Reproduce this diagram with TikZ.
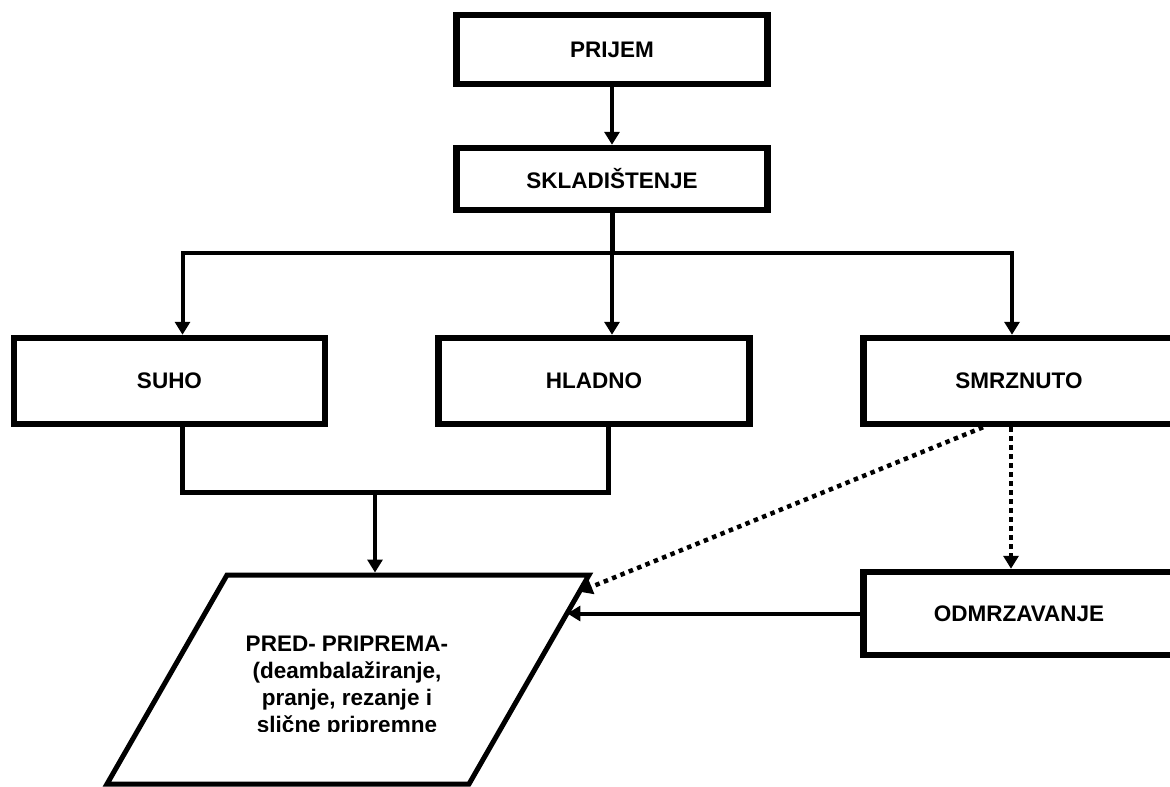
\documentclass[tikz,border=0pt]{standalone}
\usepackage{fontspec}
\setmainfont{Liberation Sans}
\usetikzlibrary{positioning,arrows.meta,calc}

\begin{document}
\begin{tikzpicture}[
  x=1pt, y=-1pt,
  font=\fontsize{22.5}{27}\selectfont\bfseries,
  >={Triangle[length=13pt,width=15pt]},
  box/.style={draw=black, line width=6.5pt, inner sep=0pt, align=center,
              minimum width=311pt, minimum height=86pt},
  topbox/.style={box, minimum height=66pt},
  prepline/.style={draw=black, line width=5pt, line join=miter},
  conn/.style={line width=5pt},
  arrow/.style={->, line width=4pt},
  dotarrow/.style={->, line width=4.5pt, dash pattern=on 4.5pt off 4.5pt}
]
\useasboundingbox (0,0) rectangle (1170,787);

% ------------------------------------------------------------
% Top: prijem and skladistenje
% ------------------------------------------------------------
\node[topbox, minimum height=69pt] (prijem) at (612,49.5) {PRIJEM};
\node[topbox, minimum height=62pt] (sklad)  at (612,179)  {SKLADIŠTENJE};

% ------------------------------------------------------------
% Storage types
% ------------------------------------------------------------
\node[box] (suho)   at (169.5,381) {SUHO};
\node[box] (hladno) at (594,381)   {HLADNO};
\node[box] (smrz)   at (1019,381)  {SMRZNUTO};
\node[box, minimum height=83pt] (odmr) at (1019,613.5) {ODMRZAVANJE};

% ------------------------------------------------------------
% Pre-preparation (parallelogram)
% ------------------------------------------------------------
\coordinate (ptl) at (227,575);
\coordinate (ptr) at (589,575);
\coordinate (pbr) at (469,784);
\coordinate (pbl) at (107,784);
\draw[prepline] (ptl) -- (ptr) -- (pbr) -- (pbl) -- cycle;
\begin{scope}
  \clip (200,620) rectangle (520,731);
  \node[align=center, inner sep=0pt] (prep) at (347,687)
    {PRED- PRIPREMA-\\(deambalažiranje,\\pranje, rezanje i\\slične pripremne};
\end{scope}

\coordinate (bus)   at (0,253);
\coordinate (merge) at (0,492);
\coordinate (ptop) at (375,572.5);
\coordinate (pin1) at ($(ptr)!0.08!(pbr)$);
\coordinate (pin2) at ($(ptr)!0.18!(pbr)$);

% arrows down from storage
\draw[arrow] (prijem) -- (sklad);
\draw[conn] (sklad.south) -- (sklad.south |- bus);
\draw[arrow] (sklad.south |- bus) -- (sklad.south |- hladno.north);
\draw[arrow] (sklad.south |- bus) -| ([xshift=13]suho.north);
\draw[arrow] (sklad.south |- bus) -| ([xshift=-7]smrz.north);

% suho + hladno join into pre-preparation
\draw[conn] ([xshift=13]suho.south) |- ([xshift=14]hladno.south |- merge)
  -- ([xshift=14]hladno.south);
\draw[arrow] (ptop |- merge) -- (ptop);

% frozen goods: directly, or via thawing
\draw[dotarrow] ([xshift=-36]smrz.south) -- (pin1);
\draw[dotarrow] ([xshift=-8]smrz.south) -- ([xshift=-8]odmr.north);
\draw[arrow] (odmr.west) -- (odmr.west -| pin2);

\end{tikzpicture}
\end{document}
